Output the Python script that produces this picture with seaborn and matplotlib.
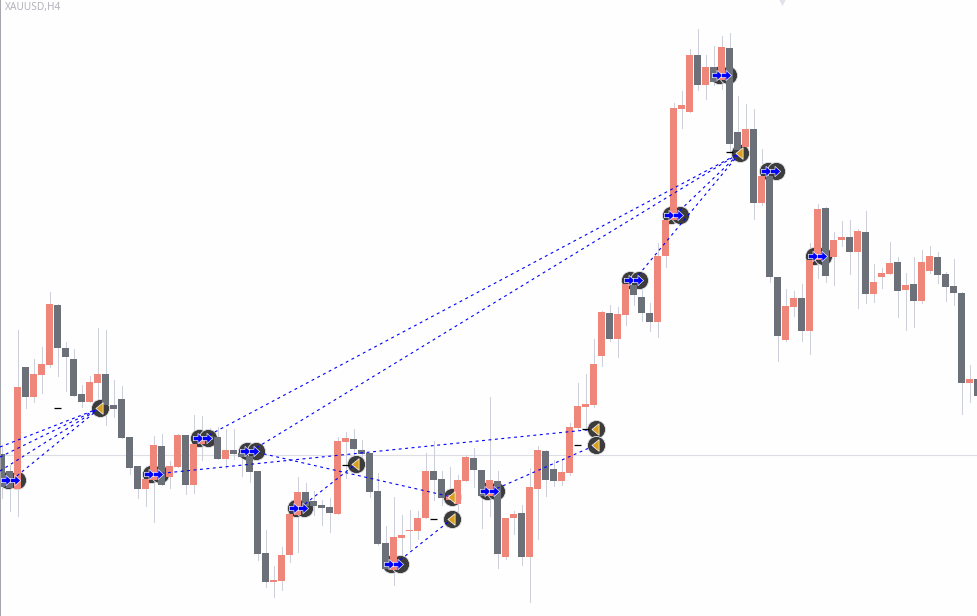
import numpy as np
import pandas as pd
import matplotlib
matplotlib.use("Agg")
import matplotlib.pyplot as plt
from matplotlib.path import Path
import seaborn as sns

# Candles, in chart price points
opens = [162,145,127,249,219,241,251,311,268,257,222,214,233,242,211,217,179,150,127,136,170,139,149,181,131,172,180,179,157,166,163,160,145,63,34,35,61,101,124,115,111,109,102,174,177,166,163,125,73,46,78,85,85,98,145,137,116,112,135,158,146,120,135,59,98,103,59,127,165,147,135,143,188,209,211,260,303,277,301,331,319,303,294,360,396,507,504,561,531,549,536,568,484,469,487,413,440,339,276,309,318,285,356,408,359,376,379,364,384,322,339,342,354,326,332,315,345,359,342,330,323,233,237]
highs = [169,151,286,249,257,269,324,312,274,267,231,240,288,286,236,230,179,150,150,180,182,155,182,181,201,200,188,189,187,187,171,174,145,86,50,69,111,139,133,125,116,118,179,184,187,176,163,143,90,119,101,106,105,163,175,145,149,141,161,168,146,219,145,98,105,111,148,170,166,156,156,193,233,242,277,305,311,309,343,343,336,313,373,403,513,525,567,587,561,570,580,583,520,512,507,467,446,339,327,325,332,373,412,409,384,395,396,387,405,352,348,374,359,343,359,366,370,364,344,357,324,251,260]
lows = [118,105,100,208,214,223,249,240,225,220,209,214,216,191,199,178,142,118,110,94,131,128,149,122,123,156,172,157,148,157,140,134,56,29,19,26,54,64,103,101,91,84,102,138,143,146,119,71,46,31,59,67,77,98,116,111,111,104,135,129,88,100,48,57,82,51,14,77,120,130,131,141,186,186,209,250,275,259,291,311,295,285,279,349,393,488,504,526,517,531,527,463,463,469,397,411,334,255,275,300,275,262,338,334,331,370,342,308,313,314,328,342,299,286,289,313,343,333,315,311,202,214,206]
closes = [129,128,229,219,242,252,312,268,259,220,214,234,242,211,207,178,148,127,137,171,131,150,181,131,172,178,176,157,166,162,159,144,62,34,36,61,102,124,110,110,108,103,175,178,167,162,124,72,47,79,81,86,98,145,136,118,121,136,159,146,120,136,62,98,102,59,129,166,136,135,144,189,210,212,252,304,277,302,332,321,303,294,360,396,508,511,561,531,549,534,569,472,466,487,413,440,339,280,310,318,285,356,407,340,376,379,364,385,322,334,343,353,325,331,315,354,360,341,329,323,233,237,220]

# Signal objects
pair_bars = [1.34, 19.2, 25.25, 31.2, 37.3, 49.2, 61.2, 79.1, 84.2, 90.2, 96.3, 102.15]
pair_prices = [136, 142, 178, 165, 108, 52, 125, 336, 401, 541, 445, 360]
tri_bars = [12.31, 44.3, 56.3, 56.3, 74.3, 74.3, 92.3]
tri_prices = [208, 152, 97, 119, 187, 171, 463]
tick_bars = [7, 43, 54, 73, 72, 91]
tick_prices = [208, 151, 97, 187, 171, 464]

# Dashed trend links
link_from_bar = [-0.19, -0.19, -0.19, 1.3, 25.25, 31.2, 79.1, 84.2, 19.2, 61.2, 31.2, 37.3, 49.2]
link_from_price = [169, 159, 145, 136, 178, 165, 336, 401, 142, 125, 165, 108, 52]
link_to_bar = [12.31, 12.31, 12.31, 12.31, 92.3, 92.3, 92.3, 92.3, 74.3, 74.3, 56.3, 44.3, 56.3]
link_to_price = [208, 208, 208, 208, 463, 463, 463, 463, 187, 171, 119, 152, 97]

level_price = 161
symbol_label = "XAUUSD,H4"

SALMON, GREY, WICK = "#EE8779", "#6B7079", "#CDD0DA"
BLUE, DISK, GOLD = "#0000FF", "#3C3C3C", "#D8A01E"

sns.set_theme(style="white")
plt.rcParams["font.family"] = ["Noto Sans", "DejaVu Sans"]

fig = plt.figure(figsize=(9.78, 6.16), dpi=100, facecolor="#FEFEFF")
ax = fig.add_axes([0, 0, 1, 1], facecolor="#FEFEFF")

candles = pd.DataFrame({"bar": np.arange(len(opens)), "open": opens, "high": highs,
                        "low": lows, "close": closes})
candles["lo_body"] = candles[["open", "close"]].min(axis=1)
candles["hi_body"] = candles[["open", "close"]].max(axis=1)
up = candles["close"] > candles["open"]

ax.axhline(level_price, color="#DDDDE6", lw=0.8, zorder=0.5)
ax.vlines(candles["bar"], candles["low"], candles["high"], color=WICK, lw=0.72, zorder=1,
          antialiased=False)
ax.bar(candles["bar"], candles["hi_body"] - candles["lo_body"], bottom=candles["lo_body"],
       width=0.875, color=np.where(up, SALMON, GREY), linewidth=0, zorder=2)

# Disks sit beneath the candle bodies
pairs = pd.DataFrame({"bar": pair_bars, "price": pair_prices})
tris = pd.DataFrame({"bar": tri_bars, "price": tri_prices})
disk_kw = dict(color=DISK, edgecolor="#E4E4EA", linewidth=0.6, s=170, legend=False, ax=ax, zorder=1.5)
sns.scatterplot(data=pairs.assign(bar=pairs["bar"] - 0.55), x="bar", y="price", **disk_kw)
sns.scatterplot(data=pairs.assign(bar=pairs["bar"] + 0.55), x="bar", y="price", **disk_kw)
sns.scatterplot(data=tris, x="bar", y="price", **disk_kw)

# Dashed links
links = pd.DataFrame({
    "link": list(range(len(link_from_bar))) * 2,
    "bar": link_from_bar + link_to_bar,
    "price": link_from_price + link_to_price,
})
sns.lineplot(data=links, x="bar", y="price", units="link", estimator=None, color=BLUE,
             lw=0.8, linestyle=(0, (2.6, 3.2)), legend=False, ax=ax, zorder=3)

ax.hlines(tick_prices, np.array(tick_bars) - 0.44, np.array(tick_bars) + 0.44,
          color="black", lw=0.9, zorder=3)

# Gold triangles
wedge = Path([(0.62, -1), (0.62, 1), (-0.62, 0), (0.62, -1)], closed=True)
sns.scatterplot(data=tris.assign(bar=tris["bar"] - 0.1), x="bar", y="price", marker=wedge, color=GOLD,
                edgecolor="white", linewidth=0.5, s=70, legend=False, ax=ax, zorder=4)

# Blue arrows
arrow = Path([(-1, -0.42), (-0.1, -0.42), (-0.1, -1), (1, 0), (-0.1, 1), (-0.1, 0.42), (-1, 0.42), (-1, -0.42)], closed=True)
for shift in (-0.72, 0.4):
    sns.scatterplot(data=pairs.assign(bar=pairs["bar"] + shift), x="bar", y="price", marker=arrow,
                    color=BLUE, edgecolor="white", linewidth=0.45, s=55, legend=False, ax=ax, zorder=5)

# Faint scroll mark on the top edge
ax.scatter([97.56], [615], marker="v", s=45, color="#E2E2EA", linewidths=0, zorder=1)

ax.set_xlim(-0.1875, 122.06)
ax.set_ylim(0, 616)
ax.set_xlabel("")
ax.set_ylabel("")
ax.set_xticks([])
ax.set_yticks([])
sns.despine(ax=ax, top=True, right=True, bottom=True, left=False)
ax.spines["left"].set_color("#A3A3AA")
ax.spines["left"].set_linewidth(1.4)

fig.text(5 / 978, 1 - 2 / 616, symbol_label, fontsize=7.3, color="#B3B3BB", va="top", ha="left")

fig.savefig("out.png", dpi=100, facecolor=fig.get_facecolor())
